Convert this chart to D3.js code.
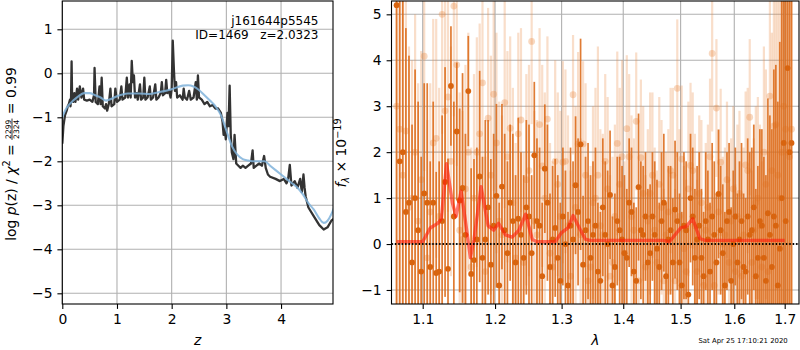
<!DOCTYPE html>
<html>
<head>
<meta charset="utf-8">
<script src="https://cdn.jsdelivr.net/npm/d3@7"></script>
<style>
  body { margin: 0; background: #fff; }
  text { font-family: "DejaVu Sans", sans-serif; }
</style>
</head>
<body>
<div id="chart"></div>
<script>
// ---------p(z) panel data----------
const zGrid = [0, 0.02, 0.05, 0.08, 0.10, 0.12, 0.14, 0.15, 0.16, 0.17, 0.18, 0.20, 0.22, 0.24, 0.27, 0.29, 0.32, 0.35, 0.38, 0.40,
  0.45, 0.50, 0.55, 0.58, 0.59, 0.61, 0.65, 0.68, 0.70, 0.72, 0.74, 0.78, 0.80, 0.82, 0.85, 0.88, 0.90, 0.95, 0.97, 1.00,
  1.05, 1.08, 1.10, 1.15, 1.18, 1.20, 1.23, 1.25, 1.27, 1.29, 1.31, 1.33, 1.36, 1.38, 1.42, 1.44, 1.48, 1.50, 1.52, 1.56,
  1.60, 1.62, 1.66, 1.70, 1.72, 1.76, 1.80, 1.82, 1.84, 1.88, 1.90, 1.92, 1.95, 1.98, 2.00, 2.02, 2.04, 2.06, 2.08, 2.10,
  2.15, 2.20, 2.22, 2.24, 2.28, 2.32, 2.35, 2.40, 2.44, 2.46, 2.48, 2.50, 2.55, 2.60, 2.65, 2.70, 2.75, 2.80, 2.85, 2.90,
  2.93, 2.95, 2.97, 2.99, 3.02, 3.04, 3.06, 3.08, 3.10, 3.13, 3.15, 3.18, 3.22, 3.26, 3.30, 3.35, 3.40, 3.45, 3.48, 3.50,
  3.55, 3.60, 3.65, 3.69, 3.72, 3.76, 3.80, 3.90, 3.98, 4.05, 4.10, 4.13, 4.16, 4.19, 4.25, 4.30, 4.35, 4.38, 4.41, 4.43,
  4.45, 4.50, 4.60, 4.70, 4.78, 4.85, 4.92, 4.97];
const logPz = [-1.60, -1.20, -0.95, -0.85, -0.75, -0.70, -0.60, -0.75, -0.55, 0.27, -0.60, -0.65, -0.45, -0.65, -0.35, -0.60, -0.30, -0.55, -0.35, -0.60,
  -0.62, -0.60, -0.65, -0.50, 0.12, -0.65, -0.70, -0.30, -0.70, -0.10, -0.75, -0.80, -0.70, -0.85, -0.70, -0.35, -0.75, -0.70, -0.35, -0.65,
  -0.60, -0.30, -0.60, -0.55, -0.10, -0.55, -0.25, -0.55, 0.28, -0.20, -0.05, -0.55, -0.45, -0.60, -0.25, -0.60, -0.55, -0.10, -0.60, -0.55,
  -0.30, -0.60, -0.55, -0.25, -0.60, -0.55, -0.45, -0.20, -0.50, -0.45, -0.15, -0.45, -0.40, -0.55, -0.35, 0.74, 0.10, -0.40, -0.20, -0.55,
  -0.50, -0.60, -0.35, -0.55, -0.60, -0.40, -0.60, -0.55, -0.20, -0.60, -0.05, -0.55, -0.60, -0.70, -0.65, -0.75, -0.72, -0.80, -0.80, -0.90,
  -1.10, -1.40, -1.25, -1.50, -0.90, -1.20, -0.28, -1.40, -1.80, -1.95, -1.40, -2.05, -2.10, -2.15, -2.10, -2.15, -2.10, -2.05, -1.75, -2.15,
  -2.10, -2.05, -2.10, -1.88, -2.15, -2.30, -2.35, -2.40, -2.45, -2.40, -2.50, -2.40, -2.08, -2.55, -2.45, -2.60, -2.40, -2.70, -2.30, -2.60,
  -2.80, -3.05, -3.25, -3.45, -3.55, -3.50, -3.35, -3.30];
const zSmooth = [0, 0.05, 0.10, 0.20, 0.30, 0.40, 0.50, 0.60, 0.70, 0.80, 0.90, 1.00, 1.10, 1.20, 1.40, 1.60, 1.80, 2.00, 2.20, 2.30,
  2.40, 2.50, 2.60, 2.70, 2.80, 2.90, 3.00, 3.10, 3.20, 3.30, 3.40, 3.50, 3.60, 3.70, 3.80, 3.90, 4.00, 4.10, 4.20, 4.30,
  4.40, 4.50, 4.60, 4.70, 4.78, 4.85, 4.92, 4.97];
const logPzSmooth = [-1.00, -0.85, -0.75, -0.62, -0.52, -0.45, -0.45, -0.50, -0.55, -0.62, -0.58, -0.52, -0.48, -0.46, -0.46, -0.47, -0.42, -0.36, -0.28, -0.27,
  -0.30, -0.38, -0.50, -0.62, -0.75, -0.95, -1.30, -1.65, -1.85, -1.95, -1.98, -2.00, -2.00, -2.00, -2.10, -2.20, -2.30, -2.40, -2.50, -2.60,
  -2.75, -2.95, -3.10, -3.30, -3.40, -3.35, -3.20, -3.05];
const zTicks = [0, 1, 2, 3, 4];
const pzTicks = [1, 0, -1, -2, -3, -4, -5];

// ---------spectrum panel data----------
// two wavelength grids, interleaved
const waveA = [1.066, 1.074, 1.082, 1.090, 1.098, 1.106, 1.114, 1.122, 1.130, 1.138, 1.146, 1.154, 1.162, 1.170, 1.178, 1.186, 1.194, 1.202, 1.210, 1.218,
  1.226, 1.234, 1.242, 1.250, 1.258, 1.266, 1.274, 1.282, 1.290, 1.298, 1.306, 1.314, 1.322, 1.330, 1.338, 1.346, 1.354, 1.362, 1.370, 1.378,
  1.386, 1.394, 1.402, 1.410, 1.418, 1.426, 1.434, 1.442, 1.450, 1.458, 1.466, 1.474, 1.482, 1.490, 1.498, 1.506, 1.514, 1.522, 1.530, 1.538,
  1.546, 1.554, 1.562, 1.570, 1.578, 1.586, 1.594, 1.602, 1.610, 1.618, 1.626, 1.634, 1.642, 1.650, 1.658, 1.666, 1.674, 1.682, 1.690, 1.698,
  1.706, 1.714];
const waveB = [1.070, 1.078, 1.086, 1.094, 1.102, 1.110, 1.118, 1.126, 1.134, 1.142, 1.150, 1.158, 1.166, 1.174, 1.182, 1.190, 1.198, 1.206, 1.214, 1.222,
  1.230, 1.238, 1.246, 1.254, 1.262, 1.270, 1.278, 1.286, 1.294, 1.302, 1.310, 1.318, 1.326, 1.334, 1.342, 1.350, 1.358, 1.366, 1.374, 1.382,
  1.390, 1.398, 1.406, 1.414, 1.422, 1.430, 1.438, 1.446, 1.454, 1.462, 1.470, 1.478, 1.486, 1.494, 1.502, 1.510, 1.518, 1.526, 1.534, 1.542,
  1.550, 1.558, 1.566, 1.574, 1.582, 1.590, 1.598, 1.606, 1.614, 1.622, 1.630, 1.638, 1.646, 1.654, 1.662, 1.670, 1.678, 1.686, 1.694, 1.702,
  1.710];

// darker spectrum on grid A
const fluxA = [5.2, 2.0, 0.9, 1.0, -0.6, 0.9, 0.9, -0.6, 1.35, 3.44, 2.45, 1.22, 3.33, -0.35, 1.47, 0.1, -0.45, 1.05, 1.25, -0.2,
  0.5, 0.55, -0.3, 0.6, 1.93, 0.4, 1.64, -0.5, 0.35, -0.8, 0.0, 0.4, 1.28, 2.17, 0.3, -0.3, 0.4, -0.8, 0.2, 1.07,
  -0.5, 0.3, -0.2, 0.9, -0.6, 1.24, 0.2, -0.4, 0.6, -0.1, 0.5, -0.7, 0.3, 0.75, -0.4, 0.4, -1.1, 0.6, 0.1, -0.3,
  0.5, -0.6, 0.2, 1.09, -0.2, 0.5, -0.8, 0.6, 0.1, -0.5, 0.6, 0.3, -0.7, 0.5, -0.3, 0.67, -0.5, 0.4, -0.1, 2.2,
  3.83, 2.2];
const errA = [8, 6, 3.2, 2.8, 2.5, 2.6, 2.2, 2.4, 2.5, 1.3, 1.5, 2.5, 1.2, 2.2, 2.3, 2.6, 2.3, 2.0, 1.8, 2.0,
  1.9, 2.2, 1.8, 2.0, 1.6, 1.7, 1.4, 1.6, 1.5, 1.7, 1.6, 1.7, 1.5, 2.3, 1.6, 1.8, 1.7, 1.5, 1.6, 1.4,
  1.6, 1.6, 1.7, 1.4, 1.5, 1.6, 1.5, 1.6, 1.4, 1.5, 1.5, 1.6, 1.4, 1.5, 1.5, 1.6, 1.5, 1.5, 1.6, 1.5,
  1.5, 1.5, 1.6, 1.4, 1.5, 1.5, 1.6, 1.5, 1.7, 1.6, 1.7, 1.8, 1.9, 2.0, 2.2, 2.5, 3.0, 3.5, 4.5, 6,
  8, 9];
// darker spectrum on grid B
const fluxC = [1.8, 0.7, -0.4, 0.3, 1.1, -0.5, -0.63, 0.5, -0.54, 0.6, 0.95, 0.2, -0.65, 0.1, -0.3, 0.8, 0.4, -0.9, 0.3, 0.9,
  -0.4, 0.2, 0.8, -0.2, 0.5, -0.7, 0.9, 0.1, -0.3, 0.6, -0.9, 0.1, 0.7, -0.45, 0.5, 0.2, -0.6, 0.8, 0.0, -0.9,
  0.5, 0.1, -0.3, 0.7, -0.8, 0.3, 0.6, -0.2, 0.2, -0.5, 0.9, 0.1, -0.4, 0.5, -0.9, 0.3, 1.0, -0.3, 0.4, -0.7,
  0.1, 0.6, -0.4, 0.3, -0.9, 0.7, 0.0, -0.4, 0.5, -0.6, 0.2, 0.8, -0.3, 0.4, -0.8, 0.2, 0.6, -0.9, 1.0, 0.5,
  2.0];
const errC = [7, 4, 3, 2.8, 2.4, 2.3, 2.2, 2.3, 2.4, 2.5, 2.0, 2.2, 2.3, 2.0, 2.2, 1.9, 2.0, 1.8, 2.1, 1.7,
  1.9, 1.8, 1.9, 1.7, 1.8, 1.6, 1.7, 1.6, 1.8, 1.5, 1.6, 1.7, 1.6, 1.5, 1.7, 1.6, 1.5, 1.5, 1.6, 1.5,
  1.4, 1.6, 1.5, 1.4, 1.6, 1.5, 1.4, 1.5, 1.6, 1.4, 1.5, 1.6, 1.4, 1.5, 1.6, 1.5, 1.4, 1.5, 1.6, 1.4,
  1.5, 1.6, 1.5, 1.4, 1.6, 1.5, 1.6, 1.5, 1.7, 1.6, 1.8, 1.8, 2.0, 2.1, 2.3, 2.6, 3.2, 4.0, 5, 6.5,
  8];
// lighter spectrum on grid B
const fluxB = [2.5, 2.46, 1.0, 0.5, 4.09, 0.7, 2.3, 5.0, 3.2, 5.18, 0.3, 1.2, -0.5, 2.0, 3.51, 2.74, 3.26, 0.5, 3.08, 2.52,
  -0.3, 2.70, 1.4, 4.41, 0.2, 1.70, 2.72, -0.5, 1.3, 1.78, 0.4, 3.25, 2.18, 2.18, -0.8, 0.9, 1.5, 0.2, 1.2, -0.4,
  2.19, 1.90, 2.51, 0.6, 2.67, 1.88, -0.5, 1.1, 0.3, 1.3, -0.8, 0.7, 1.5, 3.39, 1.85, -0.6, 1.71, 0.4, 1.1, -0.9,
  0.8, 4.15, 2.96, 1.78, 0.2, -0.4, 1.2, 0.6, -0.7, 1.72, 2.76, 0.3, 1.0, -0.5, 1.3, 3.22, 2.57, 1.5, 2.0, 2.5,
  1.9];
const errB = [5, 3.5, 3.0, 3.0, 2.5, 2.8, 2.6, 2.6, 2.5, 2.4, 3.0, 2.7, 2.6, 2.5, 2.0, 2.4, 2.1, 2.6, 2.3, 2.0,
  2.5, 2.0, 2.3, 1.8, 2.5, 2.2, 1.8, 2.3, 2.0, 2.2, 2.4, 1.3, 2.0, 1.8, 2.2, 2.1, 2.8, 2.2, 2.0, 2.3,
  2.0, 2.1, 1.6, 2.2, 1.5, 1.7, 2.0, 2.2, 1.8, 1.9, 2.0, 1.8, 1.9, 1.5, 1.6, 2.0, 1.8, 2.0, 1.7, 1.9,
  1.8, 1.7, 1.5, 1.6, 1.9, 1.8, 1.8, 2.0, 1.8, 1.6, 1.7, 2.0, 2.2, 2.3, 2.5, 2.5, 3.0, 4.0, 5.0, 6.0,
  7.0];
// lighter spectrum on grid A
const fluxD = [3.0, 1.5, 0.8, 2.0, 1.4, -0.3, 2.2, 0.6, 2.9, 1.8, 3.9, 0.1, 2.0, 1.0, 2.4, -0.6, 1.5, 2.2, 0.2, 1.9,
  0.9, 2.4, -0.4, 1.6, 0.5, 2.6, 1.0, -0.2, 1.8, 0.6, 1.8, -0.7, 0.8, 0.2, 1.5, -0.5, 1.0, 0.4, 1.8, -0.7,
  0.6, 1.3, -0.2, 1.9, 0.3, -0.8, 1.1, 0.5, 1.5, -0.4, 0.8, 0.2, 1.6, -0.8, 0.6, -0.1, 1.2, 1.6, -0.6, 0.9,
  0.3, 1.9, -0.9, 0.7, 0.0, 1.4, 0.5, -0.6, 1.1, 0.2, 1.6, -0.4, 0.9, 0.4, 2.0, -0.6, 1.6, 2.6, 1.0, 3.0,
  2.0, 2.5];
const errD = [6, 4, 3.5, 3, 2.8, 3, 2.7, 2.8, 2.6, 2.5, 2.2, 2.8, 2.6, 2.7, 2.4, 2.5, 2.6, 2.4, 2.6, 2.3,
  2.5, 2.2, 2.4, 2.3, 2.4, 2.1, 2.3, 2.4, 2.2, 2.3, 2.0, 2.3, 2.2, 2.1, 2.0, 2.2, 2.4, 2.1, 1.9, 2.2,
  2.0, 2.1, 2.0, 1.8, 2.0, 2.1, 1.9, 2.0, 1.8, 2.0, 1.9, 1.8, 1.8, 2.0, 1.9, 1.8, 1.9, 1.7, 2.0, 1.8,
  1.9, 1.7, 1.9, 1.8, 1.9, 1.7, 1.8, 1.9, 1.8, 1.9, 1.8, 2.0, 2.1, 2.2, 2.3, 2.6, 3.0, 3.6, 4.5, 5.5,
  6.5, 8];
// emission-line model
const waveModel = [1.066, 1.100, 1.110, 1.120, 1.125, 1.132, 1.140, 1.145, 1.152, 1.158, 1.165, 1.170, 1.180, 1.190, 1.198, 1.205, 1.215, 1.225, 1.235, 1.245,
  1.255, 1.262, 1.290, 1.300, 1.310, 1.318, 1.330, 1.338, 1.345, 1.470, 1.480, 1.500, 1.510, 1.522, 1.535, 1.545, 1.700];
const fluxModel = [0.05, 0.05, 0.35, 0.45, 0.55, 1.75, 0.90, 0.60, 1.15, 0.50, -0.30, 0.10, 1.25, 0.40, 0.30, 0.45, 0.20, 0.15, 0.30, 0.65,
  0.10, 0.05, 0.05, 0.25, 0.35, 0.62, 0.30, 0.10, 0.08, 0.08, 0.05, 0.35, 0.38, 0.55, 0.12, 0.08, 0.08];
const lamTicks = [1.1, 1.2, 1.3, 1.4, 1.5, 1.6, 1.7];
const fTicks = [-1, 0, 1, 2, 3, 4, 5];

// ---------layout----------
const fs = 13.9;
const tick = 4.9;
const svg = d3.select("#chart").append("svg").attr("width", 800).attr("height", 350);

const L = { left: 62.3, right: 333, top: 1, bottom: 304 };
const R = { left: 391.5, right: 799, top: 1, bottom: 304 };

const xZ = d3.scaleLinear().domain([0, 4.95]).range([L.left, L.right]);
const yZ = d3.scaleLinear().domain([-5.243, 1.643]).range([L.bottom, L.top]);
const xLam = d3.scaleLog().domain([1.0595, 1.7295]).range([R.left, R.right]);
const yF = d3.scaleLinear().domain([-1.305, 5.29]).range([R.bottom, R.top]);

function clip(id, b) {
  svg.append("clipPath").attr("id", id).append("rect")
    .attr("x", b.left).attr("y", b.top)
    .attr("width", b.right - b.left).attr("height", b.bottom - b.top);
}
clip("clipL", L);
clip("clipR", R);

function grid(b, xs, xt, ys, yt) {
  const g = svg.append("g").attr("stroke", "#b0b0b0").attr("stroke-width", 1.1);
  g.selectAll(".gx").data(xt).enter().append("line")
    .attr("x1", d => xs(d)).attr("x2", d => xs(d)).attr("y1", b.top).attr("y2", b.bottom);
  g.selectAll(".gy").data(yt).enter().append("line")
    .attr("y1", d => ys(d)).attr("y2", d => ys(d)).attr("x1", b.left).attr("x2", b.right);
}

function axes(b, xs, xt, xfmt, ys, yt) {
  const gx = svg.append("g").attr("transform", `translate(0,${b.bottom})`)
    .call(d3.axisBottom(xs).tickValues(xt).tickFormat(xfmt).tickSize(tick).tickPadding(4.9).tickSizeOuter(0));
  const gy = svg.append("g").attr("transform", `translate(${b.left},0)`)
    .call(d3.axisLeft(ys).tickValues(yt).tickFormat(d3.format("d")).tickSize(tick).tickPadding(4.9).tickSizeOuter(0));
  [gx, gy].forEach(g => {
    g.select(".domain").remove();
    g.selectAll("line").attr("stroke", "#000").attr("stroke-width", 1.1);
    g.selectAll("text").attr("font-size", fs).attr("fill", "#000")
      .style("font-family", "'DejaVu Sans', sans-serif");
  });
  svg.append("rect").attr("x", b.left).attr("y", b.top)
    .attr("width", b.right - b.left).attr("height", b.bottom - b.top)
    .attr("fill", "none").attr("stroke", "#000").attr("stroke-width", 1.1);
}

// ---------left: p(z)----------
grid(L, xZ, zTicks, yZ, pzTicks);
const lineZ = d3.line().x(d => xZ(d[0])).y(d => yZ(d[1]));
const gL = svg.append("g").attr("clip-path", "url(#clipL)");
gL.append("path").datum(zGrid.map((z, i) => [z, logPz[i]]))
  .attr("d", lineZ).attr("fill", "none").attr("stroke", "#333333")
  .attr("stroke-width", 2.3).attr("stroke-linejoin", "round");
gL.append("path").datum(zSmooth.map((z, i) => [z, logPzSmooth[i]]))
  .attr("d", lineZ.curve(d3.curveMonotoneX)).attr("fill", "none").attr("stroke", "#80b3da")
  .attr("stroke-opacity", 0.85).attr("stroke-width", 2.1);
axes(L, xZ, zTicks, d3.format("d"), yZ, pzTicks);

svg.append("text").attr("x", 318.5).attr("y", 25).attr("text-anchor", "end")
  .attr("font-size", 12).text("j161644p5545");
svg.append("text").attr("x", 318.5).attr("y", 39).attr("text-anchor", "end")
  .attr("font-size", 12).style("white-space", "pre").text("ID=1469   z=2.0323");

svg.append("text").attr("x", L.left + (L.right - L.left) / 2).attr("y", 345)
  .attr("text-anchor", "middle").attr("font-size", fs).attr("font-style", "italic").text("z");

// ---------right: spectrum----------
grid(R, xLam, lamTicks, yF, fTicks);
const gR = svg.append("g").attr("clip-path", "url(#clipR)");

function bars(wave, flux, err, color, op, w) {
  gR.append("g").selectAll("rect").data(wave).enter().append("rect")
    .attr("x", (l) => xLam(l) - w / 2).attr("width", w)
    .attr("y", (l, i) => yF(flux[i] + err[i]))
    .attr("height", (l, i) => yF(flux[i] - err[i]) - yF(flux[i] + err[i]))
    .attr("fill", color).attr("fill-opacity", op);
}
function dots(wave, flux, color, op, r) {
  gR.append("g").selectAll("circle").data(wave).enter().append("circle")
    .attr("cx", l => xLam(l)).attr("cy", (l, i) => yF(flux[i])).attr("r", r)
    .attr("fill", color).attr("fill-opacity", op);
}
bars(waveB, fluxB, errB, "#e8853a", 0.27, 2.2);
bars(waveA, fluxD, errD, "#e8853a", 0.27, 2.2);
dots(waveB, fluxB, "#e8853a", 0.32, 3.4);
dots(waveA, fluxD, "#e8853a", 0.32, 3.4);
bars(waveA, fluxA, errA, "#dc6a18", 0.88, 1.7);
bars(waveB, fluxC, errC, "#dc6a18", 0.88, 1.7);
dots(waveA, fluxA, "#d8640f", 1, 2.9);
dots(waveB, fluxC, "#d8640f", 1, 2.9);

gR.append("path").datum(waveModel.map((l, i) => [l, fluxModel[i]]))
  .attr("d", d3.line().x(d => xLam(d[0])).y(d => yF(d[1])))
  .attr("fill", "none").attr("stroke", "#ff1a0a").attr("stroke-opacity", 0.6)
  .attr("stroke-width", 3.4).attr("stroke-linejoin", "round");

gR.append("line").attr("x1", R.left).attr("x2", R.right)
  .attr("y1", yF(0)).attr("y2", yF(0))
  .attr("stroke", "#000").attr("stroke-width", 2).attr("stroke-dasharray", "1.4,2");

axes(R, xLam, lamTicks, d3.format(".1f"), yF, fTicks);

svg.append("text").attr("x", R.left + (R.right - R.left) / 2).attr("y", 345)
  .attr("text-anchor", "middle").attr("font-size", fs).attr("font-style", "italic").text("λ");

svg.append("text").attr("x", 787.7).attr("y", 343).attr("text-anchor", "end")
  .attr("font-size", 6.9).text("Sat Apr 25 17:10:21 2020");

// ---------rotated math labels----------
function mathLabel(cx, cy, parts) {
  const g = svg.append("g").attr("transform", `translate(${cx},${cy}) rotate(-90)`);
  const inner = g.append("g");
  let x = 0;
  parts.forEach(p => {
    if (p.frac) {
      const s = p.size;
      const num = inner.append("text").attr("font-size", s).attr("y", p.ny).text(p.frac[0]);
      const den = inner.append("text").attr("font-size", s).attr("y", p.dy).text(p.frac[1]);
      const wN = num.node().getComputedTextLength();
      const wD = den.node().getComputedTextLength();
      const w = Math.max(wN, wD) + 2;
      num.attr("x", x + (w - wN) / 2);
      den.attr("x", x + (w - wD) / 2);
      inner.append("line").attr("x1", x).attr("x2", x + w).attr("y1", p.by).attr("y2", p.by)
        .attr("stroke", "#000").attr("stroke-width", 0.8);
      x += w;
    } else {
      const t = inner.append("text").attr("x", x).attr("y", p.y || 0)
        .attr("font-size", p.size || fs).style("white-space", "pre").text(p.t);
      if (p.italic) t.attr("font-style", "italic");
      x += t.node().getComputedTextLength();
    }
  });
  inner.attr("transform", `translate(${-x / 2},0)`);
}

mathLabel(15.5, 154, [
  { t: "log " },
  { t: "p", italic: true },
  { t: "(z) / " },
  { t: "χ", italic: true },
  { t: "2", size: 9.7, y: -5.5 },
  { t: " = " },
  { frac: ["2299", "2324"], size: 7.6, ny: -4.6, dy: 3.1, by: -3.5 },
  { t: " = 0.99" }
]);

mathLabel(346, 153, [
  { t: "f", italic: true },
  { t: "λ", italic: true, size: 9.7, y: 2.8 },
  { t: " × 10" },
  { t: "−19", size: 9.7, y: -5.5 }
]);
</script>
</body>
</html>
